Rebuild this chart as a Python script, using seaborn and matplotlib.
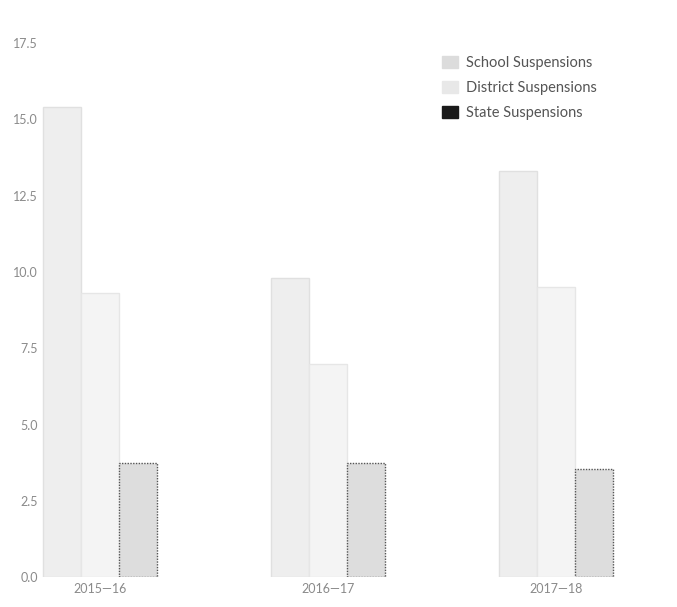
import matplotlib
matplotlib.use("Agg")
import matplotlib.pyplot as plt
import seaborn as sns
import pandas as pd

years = ["2015—16", "2016—17", "2017—18"]
school = [15.4, 9.8, 13.3]
district = [9.3, 7.0, 9.5]
state = [3.75, 3.75, 3.55]
series = ["School Suspensions", "District Suspensions", "State Suspensions"]

df = pd.DataFrame({
    "year": years * 3,
    "value": school + district + state,
    "series": [series[0]] * 3 + [series[1]] * 3 + [series[2]] * 3,
})

sns.set_theme(style="white")
plt.rcParams["font.family"] = ["Lato", "DejaVu Sans"]

fig = plt.figure(figsize=(6.77, 6.07), dpi=100)
ax = fig.add_axes([0.062, 0.049, 0.898, 0.88])

palette = {series[0]: "#eeeeee", series[1]: "#f4f4f4", series[2]: "#dddddd"}
sns.barplot(data=df, x="year", y="value", hue="series", palette=palette,
            width=0.5, ax=ax, legend=True)

edges = {series[0]: "#e0e0e0", series[1]: "#e6e6e6", series[2]: "#555555"}
for cont, name in zip(ax.containers, series):
    for p in cont:
        p.set_edgecolor(edges[name])
        p.set_linewidth(1.0)
        if name == series[2]:
            p.set_linestyle((0, (1, 1)))

ax.set_xlim(-0.254, 2.41)
ax.set_ylim(0, 17.5)
ax.set_yticks([0, 2.5, 5, 7.5, 10, 12.5, 15, 17.5])
ax.set_yticklabels(["0.0", "2.5", "5.0", "7.5", "10.0", "12.5", "15.0", "17.5"])
ax.set_xlabel("")
ax.set_ylabel("")
for s in ax.spines.values():
    s.set_visible(False)
ax.tick_params(axis="both", length=0, labelsize=9, colors="#8a8a8a", pad=4)
ax.tick_params(axis="y", pad=3)

leg = ax.legend(loc="upper left", bbox_to_anchor=(0.637, 1.0), frameon=False,
                fontsize=10.5, handlelength=1.1, handleheight=0.9,
                handletextpad=0.5, labelspacing=0.75)
handle_colors = ["#dcdcdc", "#e8e8e8", "#1a1a1a"]
for h, c in zip(leg.legend_handles, handle_colors):
    h.set_facecolor(c)
    h.set_edgecolor(c)
    h.set_linestyle("-")
for t in leg.get_texts():
    t.set_color("#555555")

fig.savefig("out.png", dpi=100)
